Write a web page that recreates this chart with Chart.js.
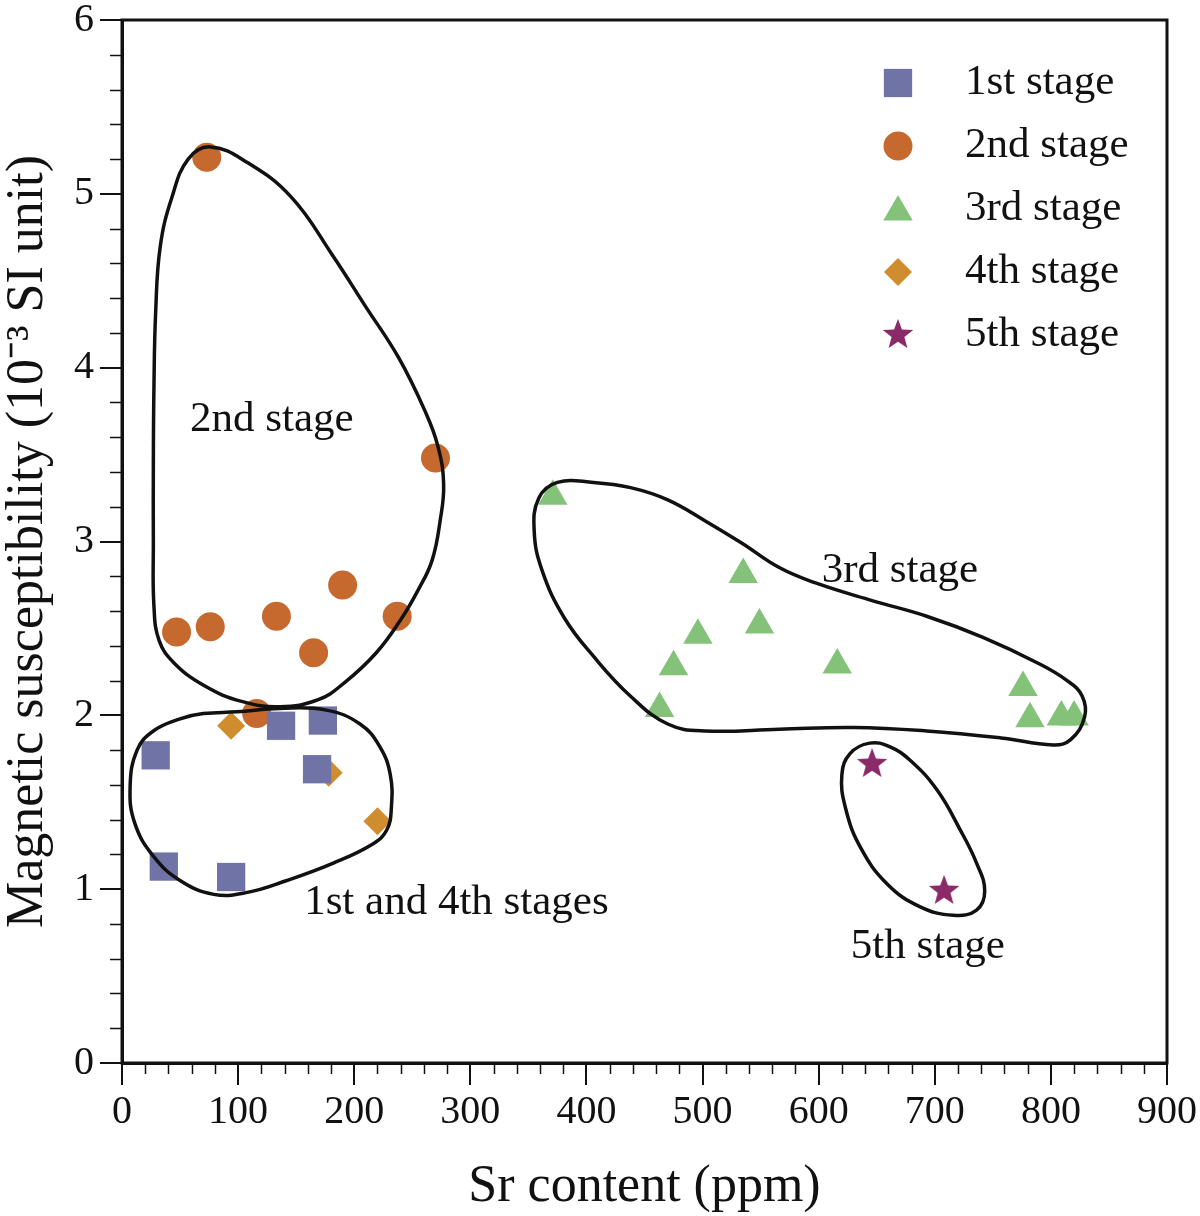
<!DOCTYPE html>
<html>
<head>
<meta charset="utf-8">
<title>Sr vs magnetic susceptibility</title>
<script src="https://cdn.jsdelivr.net/npm/chart.js@4.4.1/dist/chart.umd.min.js"></script>
<style>
  body { margin: 0; background: #fff; }
  #wrap { width: 1200px; height: 1216px; }
</style>
</head>
<body>
<div id="wrap"><canvas id="chart" width="1200" height="1216"></canvas></div>
<script>
// values: Sr (ppm) and susceptibility (10^-3 SI)
const stageNames = ['1st stage', '2nd stage', '3rd stage', '4th stage', '5th stage'];

const stage1Sr = [29, 36, 94, 137, 168, 173];
const stage1Ms = [1.77, 1.13, 1.07, 1.94, 1.69, 1.97];

const stage2Sr = [73, 47, 76, 133, 165, 190, 237, 270, 116];
const stage2Ms = [5.21, 2.48, 2.51, 2.57, 2.36, 2.75, 2.57, 3.48, 2.01];

const stage3Sr = [371, 463, 475, 496, 535, 549, 616, 776, 782, 809, 820];
const stage3Ms = [3.26, 2.04, 2.28, 2.46, 2.81, 2.52, 2.29, 2.16, 1.98, 1.99, 1.99];

const stage4Sr = [94, 178, 220];
const stage4Ms = [1.94, 1.67, 1.39];

const stage5Sr = [646, 708];
const stage5Ms = [1.72, 0.99];

// hand drawn field outlines, [Sr, Ms]
const ring2nd = [[76,5.27],[108,5.18],[146,4.98],[181,4.65],[209,4.36],[238,4.06],[261,3.75],[272,3.55],[277,3.33],[274,3.12],[267,2.89],[255,2.72],[241,2.56],[219,2.36],[192,2.19],[169,2.09],[136,2.05],[103,2.08],[71,2.17],[45,2.30],[32,2.43],[27.5,2.63],[27,3.00],[27,3.44],[27.5,3.88],[29,4.32],[33,4.70],[43,4.98],[57,5.20]];
const ring1st4th = [[50,1.98],[70,2.01],[99,2.02],[136,2.04],[176,2.03],[205,1.95],[222,1.82],[231,1.66],[232,1.47],[228,1.34],[216,1.26],[182,1.15],[142,1.05],[107,0.98],[79,0.97],[50,1.05],[27,1.19],[11,1.38],[7,1.59],[13,1.80],[27,1.91]];
const ring3rd = [[375,3.34],[359,3.25],[355,3.06],[362,2.83],[381,2.56],[406,2.34],[438,2.11],[470,1.95],[502,1.91],[566,1.92],[630,1.93],[693,1.91],[757,1.87],[802,1.83],[817,1.86],[829,1.99],[827,2.11],[814,2.20],[789,2.30],[741,2.45],[693,2.57],[646,2.66],[598,2.76],[566,2.85],[534,2.99],[502,3.12],[470,3.24],[438,3.31],[406,3.34]];
const ring5th = [[644,1.84],[627,1.78],[620,1.66],[623,1.47],[636,1.24],[659,1.03],[687,0.90],[716,0.85],[736,0.88],[743,0.99],[736,1.15],[722,1.34],[702,1.57],[679,1.74],[661,1.82]];

const fieldLabels = ['2nd stage', '3rd stage', '1st and 4th stages', '5th stage'];
const fieldLabelSr = [129, 670, 288, 694];
const fieldLabelMs = [3.70, 2.83, 0.92, 0.67];

const xTicks = [0, 100, 200, 300, 400, 500, 600, 700, 800, 900];
const yTicks = [0, 1, 2, 3, 4, 5, 6];

const serif = "'Liberation Serif', 'Times New Roman', serif";

// five pointed star for the 5th stage
function makeStar(r, color) {
  const c = document.createElement('canvas');
  c.width = c.height = r * 2 + 2;
  const g = c.getContext('2d');
  g.fillStyle = color;
  g.beginPath();
  for (let i = 0; i < 10; i++) {
    const rad = i % 2 === 0 ? r : r * 0.42;
    const a = -Math.PI / 2 + i * Math.PI / 5;
    const px = r + 1 + rad * Math.cos(a);
    const py = r + 1 + rad * Math.sin(a);
    if (i === 0) g.moveTo(px, py); else g.lineTo(px, py);
  }
  g.closePath();
  g.fill();
  return c;
}
const starImg = makeStar(16, '#8a2a68');

const markers = [
  { style: 'rect', radius: 20, color: '#7073a6' },
  { style: 'circle', radius: 14.5, color: '#c5692f' },
  { style: 'triangle', radius: 17, color: '#84c27a' },
  { style: 'rectRot', radius: 14, color: '#d08d2e' },
  { style: starImg, radius: 16, color: '#8a2a68' }
];

function pts(xs, ys) {
  return xs.map((x, i) => ({ x: x, y: ys[i] }));
}

const series = [
  pts(stage1Sr, stage1Ms),
  pts(stage2Sr, stage2Ms),
  pts(stage3Sr, stage3Ms),
  pts(stage4Sr, stage4Ms),
  pts(stage5Sr, stage5Ms)
];

const datasets = [];
[ring2nd, ring1st4th, ring3rd, ring5th].forEach(ring => {
  datasets.push({
    type: 'line',
    closed: true,
    data: ring.map(p => ({ x: p[0], y: p[1] })),
    borderColor: '#111',
    borderWidth: 3.5,
    tension: 0.42,
    pointRadius: 0,
    pointHitRadius: 0,
    fill: false,
    order: 0
  });
});
series.forEach((data, i) => {
  datasets.push({
    type: 'scatter',
    label: stageNames[i],
    data: data,
    pointStyle: markers[i].style,
    pointRadius: markers[i].radius,
    backgroundColor: markers[i].color,
    borderWidth: 0,
    order: 1
  });
});

// make the outline lines closed smooth loops
const closeLoops = {
  id: 'closeLoops',
  afterDatasetUpdate(chart, args) {
    const ds = chart.data.datasets[args.index];
    if (!ds.closed) return;
    const line = args.meta.dataset;
    line._loop = true;
    line._fullLoop = true;
    line._pointsUpdated = false;
    delete line._segments;
    delete line._path;
  }
};

// frame, minor ticks, legend box and field labels
const extras = {
  id: 'extras',
  afterDraw(chart) {
    const ctx = chart.ctx;
    const a = chart.chartArea;
    const xs = chart.scales.x, ys = chart.scales.y;
    ctx.save();
    ctx.strokeStyle = '#111';
    ctx.lineWidth = 3;
    ctx.strokeRect(a.left, a.top, a.right - a.left, a.bottom - a.top);

    ctx.lineWidth = 1.5;
    ctx.beginPath();
    for (let v = 20; v < 900; v += 20) {
      if (v % 100 === 0) continue;
      const px = Math.round(xs.getPixelForValue(v)) + 0.5;
      ctx.moveTo(px, a.bottom);
      ctx.lineTo(px, a.bottom + 11);
    }
    for (let k = 1; k < 30; k++) {
      if (k % 5 === 0) continue;
      const py = Math.round(ys.getPixelForValue(k / 5)) + 0.5;
      ctx.moveTo(a.left, py);
      ctx.lineTo(a.left - 12, py);
    }
    ctx.stroke();

    ctx.fillStyle = '#111';
    ctx.font = '43px ' + serif;
    ctx.textBaseline = 'middle';
    ctx.textAlign = 'center';
    fieldLabels.forEach((t, i) => {
      ctx.fillText(t, xs.getPixelForValue(fieldLabelSr[i]), ys.getPixelForValue(fieldLabelMs[i]));
    });

    // legend
    const mx = a.right - 269;
    stageNames.forEach((name, i) => {
      const my = a.top + 63 + i * 63;
      ctx.fillStyle = markers[i].color;
      Chart.helpers.drawPoint(ctx, {
        pointStyle: markers[i].style,
        radius: markers[i].radius,
        rotation: 0,
        borderWidth: 0
      }, mx, markers[i].style === 'triangle' ? my + 3 : my);
      ctx.fillStyle = '#111';
      ctx.textAlign = 'left';
      ctx.fillText(name, mx + 67, my);
    });
    ctx.restore();
  }
};

new Chart(document.getElementById('chart'), {
  type: 'scatter',
  data: { datasets: datasets },
  plugins: [closeLoops, extras],
  options: {
    responsive: false,
    animation: false,
    devicePixelRatio: 1,
    layout: { padding: { top: 19, right: 33, left: 0, bottom: 0 } },
    plugins: {
      legend: { display: false },
      tooltip: { enabled: false }
    },
    scales: {
      x: {
        type: 'linear',
        min: 0,
        max: 900,
        afterBuildTicks: s => { s.ticks = xTicks.map(v => ({ value: v })); },
        afterFit: s => { s.height = 153; s.paddingLeft = 0; s.paddingRight = 0; },
        ticks: {
          color: '#111',
          padding: 7,
          maxRotation: 0,
          font: { family: serif, size: 40, lineHeight: 1 }
        },
        grid: { drawOnChartArea: false, color: '#111', lineWidth: 2, tickLength: 22 },
        border: { display: true, color: '#111', width: 3 },
        title: {
          display: true,
          text: 'Sr content (ppm)',
          color: '#111',
          padding: { top: 0, bottom: 3 },
          font: { family: serif, size: 52, lineHeight: 1 }
        }
      },
      y: {
        type: 'linear',
        min: 0,
        max: 6,
        afterBuildTicks: s => { s.ticks = yTicks.map(v => ({ value: v })); },
        afterFit: s => { s.width = 122; s.paddingTop = 0; s.paddingBottom = 0; },
        ticks: {
          color: '#111',
          padding: 6,
          font: { family: serif, size: 40, lineHeight: 0.9 }
        },
        grid: { drawOnChartArea: false, color: '#111', lineWidth: 2, tickLength: 22 },
        border: { display: true, color: '#111', width: 3 },
        title: {
          display: true,
          text: 'Magnetic susceptibility (10\u207B\u00B3 SI unit)',
          color: '#111',
          padding: { top: 2, bottom: 0 },
          font: { family: serif, size: 52, lineHeight: 1 }
        }
      }
    }
  }
});
</script>
</body>
</html>
